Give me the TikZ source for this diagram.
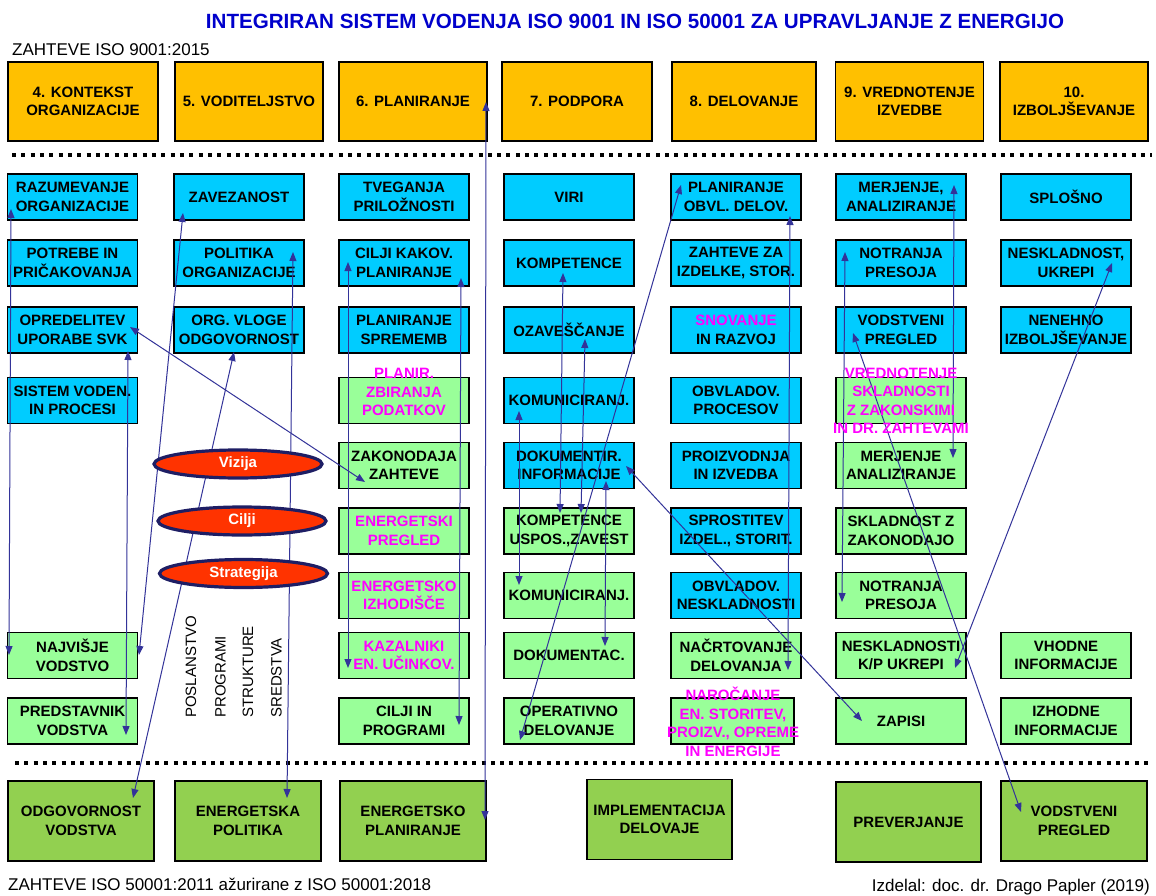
\documentclass[tikz,border=0pt]{standalone}
\usepackage{fontspec}
\setmainfont{Liberation Sans}
\usetikzlibrary{arrows.meta,shapes.geometric}

\definecolor{cyanbox}{RGB}{0,204,255}
\definecolor{ltgreen}{RGB}{153,255,153}
\definecolor{dkgreen}{RGB}{146,208,80}
\definecolor{orangebox}{RGB}{255,192,0}
\definecolor{linkblue}{RGB}{51,51,153}
\definecolor{titleblue}{RGB}{0,0,204}
\definecolor{ovalred}{RGB}{255,51,0}
\definecolor{ovalrim}{RGB}{30,30,100}
\definecolor{pink}{RGB}{255,0,255}

\begin{document}
\begin{tikzpicture}[x=1pt,y=-1pt,
  every node/.style={font=\fontsize{15}{18.5}\selectfont\bfseries, align=center, inner sep=0pt},
  cellbase/.style={draw=black, line width=1.2pt, minimum width=130pt, minimum height=46pt},
  bcell/.style={cellbase, fill=cyanbox},
  gcell/.style={cellbase, fill=ltgreen},
  headbox/.style={draw=black, line width=1.2pt, fill=orangebox, minimum width=148pt, minimum height=79pt},
  basebox/.style={draw=black, line width=1.2pt, fill=dkgreen, minimum width=146pt, minimum height=80pt},
  oval/.style={ellipse, draw=ovalrim, line width=3.2pt, fill=ovalred, minimum width=168pt, minimum height=28pt, text=white},
  link/.style={draw=linkblue, line width=1pt, {Triangle[length=9pt,width=7pt]}-{Triangle[length=9pt,width=7pt]}},
  dots/.style={line width=4pt, dash pattern=on 4pt off 5.33pt},
  plain/.style={font=\fontsize{17}{20}\selectfont},
  vert/.style={font=\fontsize{15}{18}\selectfont, rotate=90, anchor=west}
]
\fill[white] (0,0) rectangle (1156,896);
\useasboundingbox (0,0) rectangle (1156,896);

% headings
\node[font=\fontsize{20.6}{24}\selectfont\bfseries, text=titleblue, anchor=base] (title) at (635,29)
  {INTEGRIRAN SISTEM VODENJA ISO 9001 IN ISO 50001 ZA UPRAVLJANJE Z ENERGIJO};
\node[plain, anchor=base west] (req9001) at (12,56) {ZAHTEVE ISO 9001:2015};
\node[plain, anchor=base west] (req50001) at (8,890) {ZAHTEVE ISO 50001:2011 ažurirane z ISO 50001:2018};
\node[plain, anchor=base east] (author) at (1150,891) {Izdelal: doc. dr. Drago Papler (2019)};

% clause headers
\node[headbox, minimum width=150pt] (k4) at (83,101.5) {4. KONTEKST\\ORGANIZACIJE};
\node[headbox] (k5) at (249,101.5) {5. VODITELJSTVO};
\node[headbox] (k6) at (413,101.5) {6. PLANIRANJE};
\node[headbox, minimum width=150pt] (k7) at (577,101.5) {7. PODPORA};
\node[headbox, minimum width=144pt] (k8) at (744,101.5) {8. DELOVANJE};
\node[headbox] (k9) at (909.5,101.5) {9. VREDNOTENJE\\IZVEDBE};
\node[headbox] (k10) at (1074,101.5) {10.\\IZBOLJŠEVANJE};

% separators
\draw[dots] (12,155) -- (1152,155);
\draw[dots] (15,763) -- (1153,763);

% column 4
\node[bcell] (raz) at (72.5,197) {RAZUMEVANJE\\ORGANIZACIJE};
\node[bcell] (potr) at (72.5,263) {POTREBE IN\\PRIČAKOVANJA};
\node[bcell] (opr) at (72.5,330) {OPREDELITEV\\UPORABE SVK};
\node[bcell] (sis) at (72.5,400.5) {SISTEM VODEN.\\IN PROCESI};
\node[gcell] (najv) at (72.5,655.5) {NAJVIŠJE\\VODSTVO};
\node[gcell] (pred) at (72.5,721) {PREDSTAVNIK\\VODSTVA};

% column 5
\node[bcell] (zav) at (239,197) {ZAVEZANOST};
\node[bcell] (pol) at (239,263) {POLITIKA\\ORGANIZACIJE};
\node[bcell] (org) at (239,330) {ORG. VLOGE\\ODGOVORNOST};

% column 6
\node[bcell] (tveg) at (404,197) {TVEGANJA\\PRILOŽNOSTI};
\node[bcell] (cilk) at (404,263) {CILJI KAKOV.\\PLANIRANJE};
\node[bcell] (pspr) at (404,330) {PLANIRANJE\\SPREMEMB};
\node[gcell] (pzbir) at (404,400.5) {};
\node[gcell] (zak) at (404,465.5) {ZAKONODAJA\\ZAHTEVE};
\node[gcell, text=pink] (epreg) at (404,531) {ENERGETSKI\\PREGLED};
\node[gcell, text=pink] (eizh) at (404,595.5) {ENERGETSKO\\IZHODIŠČE};
\node[gcell, text=pink] (kaz) at (404,655.5) {KAZALNIKI\\EN. UČINKOV.};
\node[gcell] (cip) at (404,721) {CILJI IN\\PROGRAMI};

% column 7
\node[bcell] (viri) at (569,197) {VIRI};
\node[bcell] (komp) at (569,263) {KOMPETENCE};
\node[bcell] (ozav) at (569,330) {OZAVEŠČANJE};
\node[bcell] (kom1) at (569,400.5) {KOMUNICIRANJ.};
\node[bcell] (dok) at (569,465.5) {DOKUMENTIR.\\INFORMACIJE};
\node[gcell] (kompu) at (569,531) {KOMPETENCE\\USPOS.,ZAVEST};
\node[gcell] (kom2) at (569,595.5) {KOMUNICIRANJ.};
\node[gcell] (dokac) at (569,655.5) {DOKUMENTAC.};
\node[gcell] (oper) at (569,721) {OPERATIVNO\\DELOVANJE};

% column 8
\node[bcell] (pobv) at (736,197) {PLANIRANJE\\OBVL. DELOV.};
\node[bcell] (zaht) at (736,263) {ZAHTEVE ZA\\IZDELKE, STOR.};
\node[bcell] (snov) at (736,330) {{\color{pink}SNOVANJE}\\IN RAZVOJ};
\node[bcell] (obvp) at (736,400.5) {OBVLADOV.\\PROCESOV};
\node[bcell] (proiz) at (736,465.5) {PROIZVODNJA\\IN IZVEDBA};
\node[bcell] (spros) at (736,531) {SPROSTITEV\\IZDEL., STORIT.};
\node[bcell] (obvn) at (736,595.5) {OBVLADOV.\\NESKLADNOSTI};
\node[gcell] (nacrt) at (736,655.5) {NAČRTOVANJE\\DELOVANJA};
\node[gcell, minimum width=123pt] (naroc) at (732.5,721) {};

% column 9
\node[bcell] (merj1) at (901,197) {MERJENJE,\\ANALIZIRANJE};
\node[bcell] (notr1) at (901,263) {NOTRANJA\\PRESOJA};
\node[bcell] (vodp1) at (901,330) {VODSTVENI\\PREGLED};
\node[gcell] (vred) at (901,400.5) {};
\node[gcell] (merj2) at (901,465.5) {MERJENJE\\ANALIZIRANJE};
\node[gcell] (sklad) at (901,531) {SKLADNOST Z\\ZAKONODAJO};
\node[gcell] (notr2) at (901,595.5) {NOTRANJA\\PRESOJA};
\node[gcell] (neskkp) at (901,655.5) {NESKLADNOSTI\\K/P UKREPI};
\node[gcell] (zap) at (901,721) {ZAPISI};

% column 10
\node[bcell] (splos) at (1066,197) {SPLOŠNO};
\node[bcell] (nesk) at (1066,263) {NESKLADNOST,\\UKREPI};
\node[bcell] (nen) at (1066,330) {NENEHNO\\IZBOLJŠEVANJE};
\node[gcell] (vhod) at (1066,655.5) {VHODNE\\INFORMACIJE};
\node[gcell] (izhod) at (1066,721) {IZHODNE\\INFORMACIJE};

% ISO 50001 blocks
\node[basebox] (odg) at (81,821) {ODGOVORNOST\\VODSTVA};
\node[basebox] (enpol) at (248,821) {ENERGETSKA\\POLITIKA};
\node[basebox] (enplan) at (413,821) {ENERGETSKO\\PLANIRANJE};
\node[basebox, minimum width=145pt] (impl) at (659.5,819.5) {IMPLEMENTACIJA\\DELOVAJE};
\node[basebox, minimum width=145pt] (prev) at (908.5,822) {PREVERJANJE};
\node[basebox] (vodp2) at (1074,821) {VODSTVENI\\PREGLED};

% vertical captions
\node[vert] (posl) at (191,718) {POSLANSTVO};
\node[vert] (progr) at (220.5,718) {PROGRAMI};
\node[vert] (strukt) at (248,718) {STRUKTURE};
\node[vert] (sreds) at (276.5,718) {SREDSTVA};

% links
\draw[link] ([shift={(-61.5,12)}]raz.center) -- ([shift={(-63.5,-0.5)}]najv.center);
\draw[link] ([shift={(-56,16)}]zav.center) -- ([shift={(66.5,-0.5)}]najv.center);
\draw[link] ([shift={(54,-11)}]pol.center) -- ([shift={(39,-23)}]enpol.center);
\draw[link] ([shift={(57.5,-3)}]opr.center) -- ([shift={(-39,16.5)}]zak.center);
\draw[link] ([shift={(55.5,21)}]opr.center) -- ([shift={(53.5,14)}]pred.center);
\draw[link] ([shift={(-5,22)}]org.center) -- ([shift={(52,-23)}]odg.center);
\draw[link] ([shift={(-56,-1)}]cilk.center) -- ([shift={(-56,12.5)}]kaz.center);
\draw[link] ([shift={(57,15)}]cilk.center) -- ([shift={(55,4)}]cip.center);
\draw[link] ([shift={(73,0.5)}]k6.center) -- ([shift={(72,-1)}]enplan.center);
\draw[link] ([shift={(-6,10)}]komp.center) -- ([shift={(-9,-18)}]kompu.center);
\draw[link] ([shift={(16,9)}]ozav.center) -- ([shift={(12,-18)}]kompu.center);
\draw[link] ([shift={(-50,10.5)}]kom1.center) -- ([shift={(-50,-10.5)}]kom2.center);
\draw[link] ([shift={(37,15.5)}]dok.center) -- ([shift={(36,-9.5)}]dokac.center);
\draw[link] ([shift={(57,0.5)}]dok.center) -- ([shift={(-39,0)}]zap.center);
\draw[link] ([shift={(-55,-12)}]pobv.center) -- ([shift={(-49,19)}]oper.center);
\draw[link] ([shift={(54,19)}]pobv.center) -- ([shift={(52,14.5)}]nacrt.center);
\draw[link] ([shift={(53,-12)}]merj1.center) -- ([shift={(52,-7.5)}]merj2.center);
\draw[link] ([shift={(-56,-11)}]notr1.center) -- ([shift={(-59,6.5)}]notr2.center);
\draw[link] ([shift={(46,0)}]nesk.center) -- ([shift={(54,12.5)}]neskkp.center);
\draw[link] ([shift={(-48,3)}]vodp1.center) -- ([shift={(-53,-9)}]vodp2.center);

% overflowing magenta labels
\node[text=pink] (pzbirT) at (404,392) {PLANIR.\\ZBIRANJA\\PODATKOV};
\node[text=pink] (vredT) at (901,401) {VREDNOTENJE\\SKLADNOSTI\\Z ZAKONSKIMI\\IN DR. ZAHTEVAMI};
\node[text=pink] (narocT) at (733,722) {NAROČANJE\\EN. STORITEV,\\PROIZV., OPREME\\IN ENERGIJE};

% vision, goals, strategy
\node[oval] (viz) at (238,464) {Vizija};
\node[oval] (cilji) at (242,521) {Cilji};
\node[oval] (strat) at (243.5,573.5) {Strategija};
\end{tikzpicture}
\end{document}
